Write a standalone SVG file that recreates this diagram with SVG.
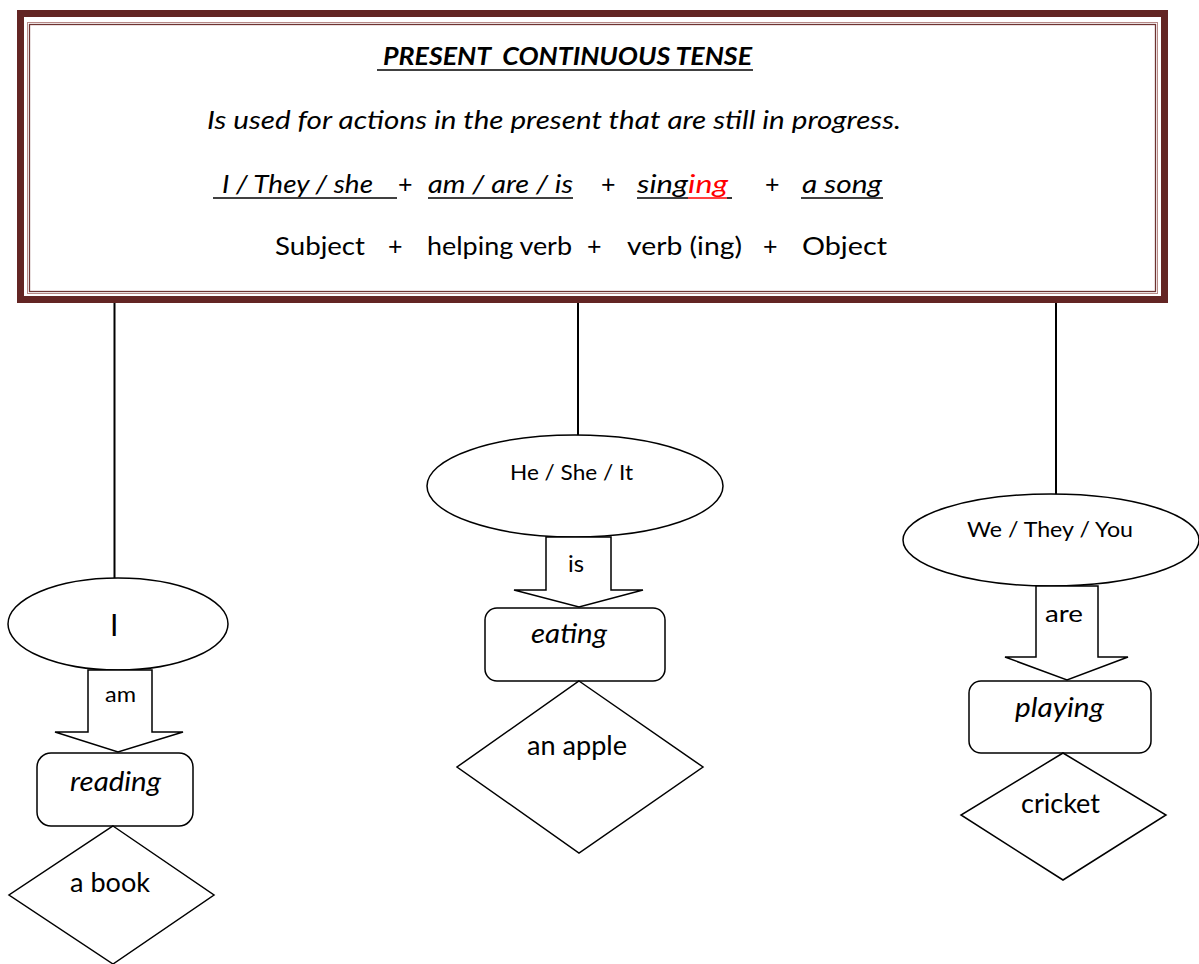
<svg xmlns="http://www.w3.org/2000/svg" width="1199" height="964" viewBox="0 0 1199 964">
<style>
text{font-family:Lato,"Liberation Sans",sans-serif;fill:#000}
.it{font-style:italic}
.shape{fill:#fff;stroke:#000;stroke-width:1.5}
.conn{stroke:#000;stroke-width:2;fill:none}
.ul{stroke:#000;stroke-width:1.6}
</style>
<rect width="1199" height="964" fill="#fff"/>
<g id="connectors">
<line class="conn" x1="114.5" y1="303" x2="114.5" y2="578"/>
<line class="conn" x1="578" y1="303" x2="578" y2="435"/>
<line class="conn" x1="1056" y1="303" x2="1056" y2="495"/>
</g>
<g id="header">
<rect x="20.5" y="13.5" width="1144" height="286" fill="#fff" stroke="#632523" stroke-width="7"/>
<rect x="27.5" y="22.5" width="1130" height="271" fill="none" stroke="#b78a88" stroke-width="1"/>
<rect x="29.5" y="24.5" width="1126" height="267" fill="none" stroke="#6e3331" stroke-width="1.3"/>
<text x="383" y="65" font-size="25" font-weight="bold" class="it" textLength="369" lengthAdjust="spacingAndGlyphs" xml:space="preserve">PRESENT  CONTINUOUS TENSE</text>
<line class="ul" x1="377" y1="70" x2="753" y2="70"/>
<text x="207" y="129" font-size="25" class="it" textLength="694" lengthAdjust="spacingAndGlyphs">Is used for actions in the present that are still in progress.</text>
<text x="222" y="193" font-size="25" class="it" textLength="151" lengthAdjust="spacingAndGlyphs">I / They / she</text>
<line class="ul" x1="213" y1="198" x2="397" y2="198"/>
<text x="398" y="193" font-size="25">+</text>
<text x="428" y="193" font-size="25" class="it" textLength="145" lengthAdjust="spacingAndGlyphs">am / are / is</text>
<line class="ul" x1="428" y1="198" x2="573" y2="198"/>
<text x="601" y="193" font-size="25">+</text>
<text x="637" y="193" font-size="25" class="it" textLength="51" lengthAdjust="spacingAndGlyphs">sing</text>
<text x="688" y="193" font-size="25" class="it" style="fill:#ff0000" textLength="40" lengthAdjust="spacingAndGlyphs">ing</text>
<line class="ul" x1="637" y1="198" x2="688" y2="198"/>
<line x1="688" y1="198" x2="727" y2="198" stroke="#ff0000" stroke-width="1.6"/>
<line class="ul" x1="727" y1="198" x2="732" y2="198"/>
<text x="765" y="193" font-size="25">+</text>
<text x="802" y="193" font-size="25" class="it" textLength="80" lengthAdjust="spacingAndGlyphs">a song</text>
<line class="ul" x1="801" y1="198" x2="883" y2="198"/>
<text x="275" y="255" font-size="25" textLength="90" lengthAdjust="spacingAndGlyphs">Subject</text>
<text x="388" y="255" font-size="25">+</text>
<text x="427" y="255" font-size="25" textLength="145" lengthAdjust="spacingAndGlyphs">helping verb</text>
<text x="587" y="255" font-size="25">+</text>
<text x="627" y="255" font-size="25" textLength="115" lengthAdjust="spacingAndGlyphs">verb (ing)</text>
<text x="763" y="255" font-size="25">+</text>
<text x="802" y="255" font-size="25" textLength="85" lengthAdjust="spacingAndGlyphs">Object</text>
</g>
<g id="subject-i">
<ellipse class="shape" cx="118" cy="624" rx="110" ry="46"/>
<text x="110" y="636" font-size="30">I</text>
</g>
<g id="arrow-am">
<polygon class="shape" points="88,670 152,670 152,732 183,732 118,752 55,732 88,732"/>
<text x="105" y="702" font-size="22" textLength="31" lengthAdjust="spacingAndGlyphs">am</text>
</g>
<g id="verb-reading">
<rect class="shape" x="37" y="753" width="156" height="73" rx="14"/>
<text class="it" x="70" y="791" font-size="27" textLength="91" lengthAdjust="spacingAndGlyphs">reading</text>
</g>
<g id="object-book">
<polygon class="shape" points="113,826 214,895 113,964 9,895"/>
<text x="70" y="892" font-size="26" textLength="80" lengthAdjust="spacingAndGlyphs">a book</text>
</g>
<g id="subject-he">
<ellipse class="shape" cx="575" cy="486" rx="148" ry="51"/>
<text x="510" y="480" font-size="22" textLength="123" lengthAdjust="spacingAndGlyphs">He / She / It</text>
</g>
<g id="arrow-is">
<polygon class="shape" points="546,537 611,537 611,590 643,590 579,607 514,590 546,590"/>
<text x="568" y="572" font-size="24" textLength="16" lengthAdjust="spacingAndGlyphs">is</text>
</g>
<g id="verb-eating">
<rect class="shape" x="485" y="608" width="180" height="73" rx="12"/>
<text class="it" x="531" y="643" font-size="27" textLength="76" lengthAdjust="spacingAndGlyphs">eating</text>
</g>
<g id="object-apple">
<polygon class="shape" points="579,681 703,767 579,853 457,767"/>
<text x="527" y="755" font-size="26" textLength="100" lengthAdjust="spacingAndGlyphs">an apple</text>
</g>
<g id="subject-we">
<ellipse class="shape" cx="1051" cy="540" rx="148" ry="46"/>
<text x="967" y="537" font-size="22" textLength="166" lengthAdjust="spacingAndGlyphs">We / They / You</text>
</g>
<g id="arrow-are">
<polygon class="shape" points="1036,586 1098,586 1098,657 1128,657 1067,680 1005,657 1036,657"/>
<text x="1045" y="622" font-size="24" textLength="38" lengthAdjust="spacingAndGlyphs">are</text>
</g>
<g id="verb-playing">
<rect class="shape" x="969" y="681" width="182" height="72" rx="12"/>
<text class="it" x="1015" y="717" font-size="27" textLength="89" lengthAdjust="spacingAndGlyphs">playing</text>
</g>
<g id="object-cricket">
<polygon class="shape" points="1063,753 1166,815 1063,880 961,815"/>
<text x="1021" y="813" font-size="26" textLength="79" lengthAdjust="spacingAndGlyphs">cricket</text>
</g>
</svg>
